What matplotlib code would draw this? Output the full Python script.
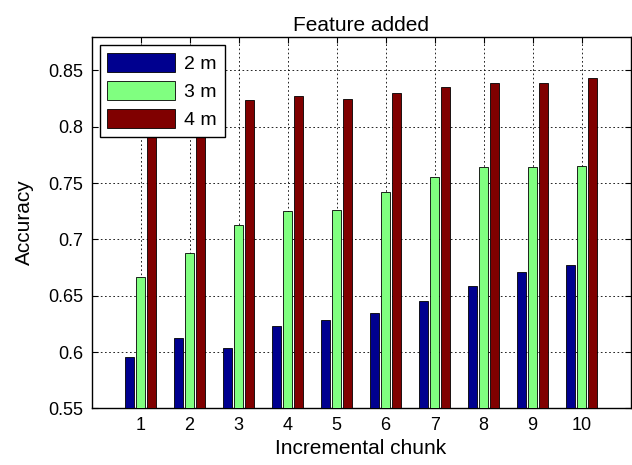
import matplotlib
matplotlib.use("Agg")
import matplotlib.pyplot as plt
import numpy as np

chunks = [1, 2, 3, 4, 5, 6, 7, 8, 9, 10]
acc2m = [0.596, 0.612, 0.604, 0.623, 0.628, 0.635, 0.645, 0.659, 0.671, 0.677]
acc3m = [0.667, 0.688, 0.713, 0.725, 0.726, 0.742, 0.755, 0.764, 0.764, 0.765]
acc4m = [0.810, 0.815, 0.824, 0.827, 0.825, 0.830, 0.835, 0.839, 0.839, 0.843]
seriesNames = ["2 m", "3 m", "4 m"]
yTicks = [0.55, 0.6, 0.65, 0.7, 0.75, 0.8, 0.85]
yTickLabels = ["0.55", "0.6", "0.65", "0.7", "0.75", "0.8", "0.85"]

colors = ["#00008f", "#80ff80", "#800000"]

plt.rcParams['font.family'] = ['Liberation Sans', 'DejaVu Sans']

fig = plt.figure(figsize=(6.32, 4.65), dpi=100)
ax = fig.add_axes([0.1448, 0.1219, 0.853, 0.7992])

x = np.array(chunks)
width = 0.178
offsets = [-0.222, 0.0, 0.222]
for vals, off, col, name in zip([acc2m, acc3m, acc4m], offsets, colors, seriesNames):
    ax.bar(x + off, vals, width, color=col, edgecolor='black', linewidth=0.6,
           label=name, zorder=3)

ax.set_xlim(0, 11)
ax.set_ylim(0.55, 0.88)
ax.set_xticks(chunks)
ax.set_yticks(yTicks)
ax.set_yticklabels(yTickLabels)
ax.grid(True, linestyle=(0, (2, 3)), color='black', linewidth=0.6, zorder=0)
ax.set_axisbelow(True)
ax.tick_params(direction='in', top=True, right=True, length=4, width=0.8,
               pad=6, labelsize=13)
for s in ax.spines.values():
    s.set_linewidth(1.0)

ax.set_title("Feature added", fontsize=15, pad=4)
ax.set_xlabel("Incremental chunk", fontsize=15, labelpad=4)
ax.set_ylabel("Accuracy", fontsize=15, labelpad=10)

leg = ax.legend(loc='upper left', fancybox=False, framealpha=1, edgecolor='black',
                handlelength=3.45, handleheight=1.17, labelspacing=0.4,
                borderpad=0.4, handletextpad=0.5, borderaxespad=0.42,
                fontsize=14)
leg.get_frame().set_linewidth(1.0)

fig.savefig("out.png", dpi=100)
